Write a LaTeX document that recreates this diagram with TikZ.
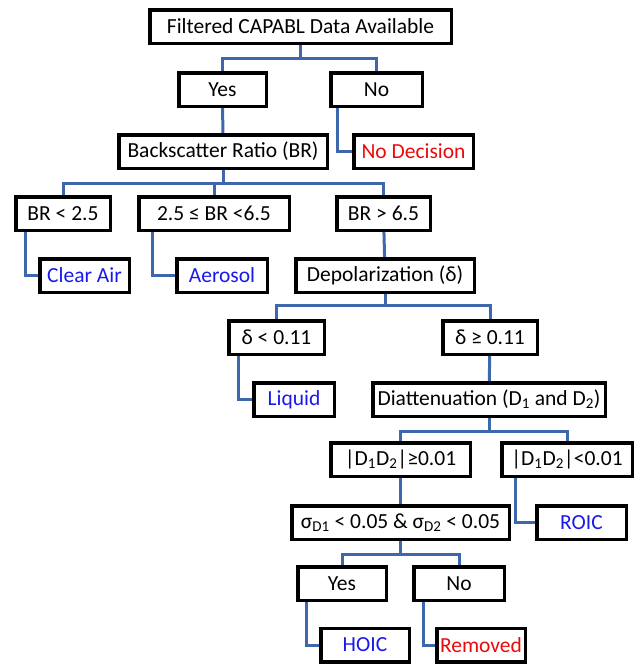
\documentclass[tikz,border=0pt]{standalone}
\usepackage{fontspec}
\setmainfont{Carlito}
\definecolor{linkblue}{RGB}{62,104,172}
\definecolor{leafblue}{RGB}{25,25,235}
\definecolor{leafred}{RGB}{235,10,10}
\tikzset{
	box/.style={draw,line width=3.5pt,minimum height=33.5pt,inner sep=0pt,
		font=\fontsize{21.5}{25}\selectfont},
	link/.style={draw=linkblue,line width=3pt},
}
\begin{document}
\begin{tikzpicture}[x=1pt,y=-1pt]
			\path[use as bounding box](0,0)rectangle(636,664);
			% decision boxes
			\node[box,minimum width=301.5pt](top)at(300.5,26.5){Filtered CAPABL Data Available};
			\node[box,minimum width=87.5pt](yes1)at(222.5,89.5){Yes};
			\node[box,minimum width=91.5pt](no1)at(376.5,89.5){No};
			\node[box,minimum width=208.5pt](br)at(223,151.5){Backscatter Ratio (BR)};
			\node[box,minimum width=119.5pt,text=leafred](nodec)at(413.5,151.5){No Decision};
			\node[box,minimum width=94.5pt](brlow)at(63,213.5){BR < 2.5};
			\node[box,minimum width=150.5pt](brmid)at(214,213.5){2.5 ≤ BR <6.5};
			\node[box,minimum width=93.5pt](brhigh)at(383.5,213.5){BR > 6.5};
			\node[box,minimum width=89.5pt,text=leafblue](clear)at(84.5,275.5){Clear Air};
			\node[box,minimum width=90.5pt,text=leafblue](aero)at(222,275.5){Aerosol};
			\node[box,minimum width=178.5pt](depol)at(385,275.5){Depolarization (δ)};
			\node[box,minimum width=95.5pt](dlow)at(276.5,337.5){δ < 0.11};
			\node[box,minimum width=94.5pt](dhigh)at(490,337.5){δ ≥ 0.11};
			\node[box,minimum width=80.5pt,text=leafblue](liquid)at(294,399.5){Liquid};
			\node[box,minimum width=232.5pt](diatt)at(489,399.5){Diattenuation (D\textsubscript{1} and D\textsubscript{2})};
			\node[box,minimum width=139.5pt](dge)at(400.5,459.5){|D\textsubscript{1}D\textsubscript{2}|≥0.01};
			\node[box,minimum width=130.5pt](dlt)at(567,459.5){|D\textsubscript{1}D\textsubscript{2}|<0.01};
			\node[box,minimum width=217.5pt](sigma)at(400.5,522.5){σ\textsubscript{D1} < 0.05 \& σ\textsubscript{D2} < 0.05};
			\node[box,minimum width=89.5pt,text=leafblue](roic)at(581.5,522.5){ROIC};
			\node[box,minimum width=88.5pt](yes2)at(342,583.5){Yes};
			\node[box,minimum width=90.5pt](no2)at(459,583.5){No};
			\node[box,minimum width=88.5pt,text=leafblue](hoic)at(365,645){HOIC};
			\node[box,minimum width=88.5pt,text=leafred](removed)at(481,645){Removed};
			% forks
			\draw[link](top.south)--++(0,13)-|(yes1.north);
			\draw[link](top.south)--++(0,13)-|(no1.north);
			\draw[link](br.south)--++(0,13)-|(brlow.north);
			\draw[link](br.south)--++(0,13)-|(brmid.north);
			\draw[link](br.south)--++(0,13)-|(brhigh.north);
			\draw[link](depol.south)--++(0,11)-|(dlow.north);
			\draw[link](depol.south)--++(0,11)-|(dhigh.north);
			\draw[link](diatt.south)--++(0,13)-|(dge.north);
			\draw[link](diatt.south)--++(0,13)-|(dlt.north);
			\draw[link](sigma.south)--++(0,13)-|(yes2.north);
			\draw[link](sigma.south)--++(0,13)-|(no2.north);
			% straight links
			\draw[link](yes1)--(br);
			\draw[link](brhigh)--(depol);
			\draw[link](dhigh)--(diatt);
			\draw[link](dge)--(sigma);
			% elbows to the leaves
			\draw[link]([xshift=8pt]no1.south west)|-(nodec.west);
			\draw[link]([xshift=11pt]brlow.south west)|-(clear.west);
			\draw[link]([xshift=15pt]brmid.south west)|-(aero.west);
			\draw[link]([xshift=11pt]dlow.south west)|-(liquid.west);
			\draw[link]([xshift=15pt]dlt.south west)|-(roic.west);
			\draw[link]([xshift=10pt]yes2.south west)|-(hoic.west);
			\draw[link]([xshift=11pt]no2.south west)|-(removed.west);
		\end{tikzpicture}
\end{document}
